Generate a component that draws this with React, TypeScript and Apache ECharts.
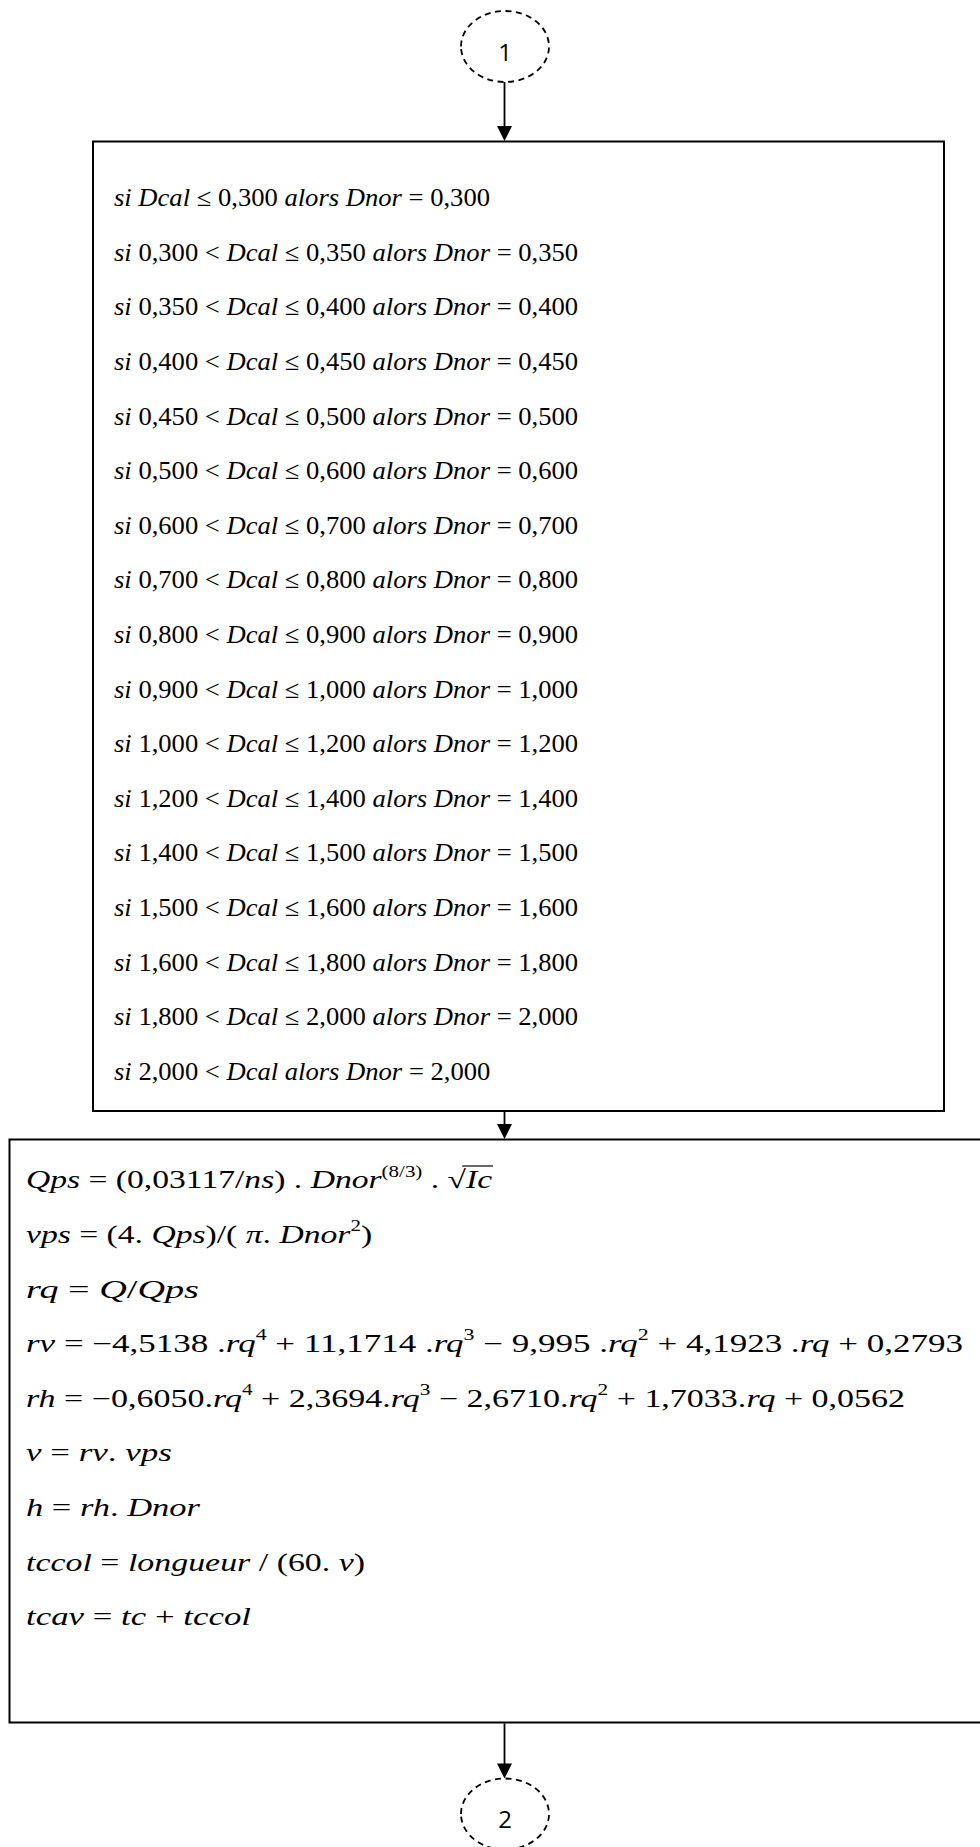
import React, { useEffect, useRef } from "react";
import * as echarts from "echarts";

type Tok = [string, string];

// ---------- content ----------
const connectorLabels = ["1", "2"];

// standard (normalised) diameters, m
const standardDiameters = [
  "0,300", "0,350", "0,400", "0,450", "0,500", "0,600", "0,700", "0,800",
  "0,900", "1,000", "1,200", "1,400", "1,500", "1,600", "1,800", "2,000",
];

// second block: formula lines (style key, text)
const qpsLine: Tok[] = [["i", "Qps"], ["n", " = (0,03117/"], ["i", "ns"], ["n", ") . "], ["i", "Dnor"], ["s", "(8/3)"], ["n", " . "], ["n", "√"], ["i", "Ic"]];
const vpsLine: Tok[] = [["i", "vps"], ["n", " = (4. "], ["i", "Qps"], ["n", ")/( "], ["i", "π"], ["n", ". "], ["i", "Dnor"], ["s", "2"], ["n", ")"]];
const rqLine: Tok[] = [["i", "rq"], ["n", " = "], ["i", "Q"], ["n", "/"], ["i", "Qps"]];
const rvLine: Tok[] = [["i", "rv"], ["n", " = −4,5138 ."], ["i", "rq"], ["s", "4"], ["n", " + 11,1714 ."], ["i", "rq"], ["s", "3"], ["n", " − 9,995 ."], ["i", "rq"], ["s", "2"], ["n", " + 4,1923 ."], ["i", "rq"], ["n", " + 0,2793"]];
const rhLine: Tok[] = [["i", "rh"], ["n", " = −0,6050."], ["i", "rq"], ["s", "4"], ["n", " + 2,3694."], ["i", "rq"], ["s", "3"], ["n", " − 2,6710."], ["i", "rq"], ["s", "2"], ["n", " + 1,7033."], ["i", "rq"], ["n", " + 0,0562"]];
const vLine: Tok[] = [["i", "v"], ["n", " = "], ["i", "rv"], ["n", ". "], ["i", "vps"]];
const hLine: Tok[] = [["i", "h"], ["n", " = "], ["i", "rh"], ["n", ". "], ["i", "Dnor"]];
const tccolLine: Tok[] = [["i", "tccol"], ["n", " = "], ["i", "longueur"], ["n", " / (60. "], ["i", "v"], ["n", ")"]];
const tcavLine: Tok[] = [["i", "tcav"], ["n", " = "], ["i", "tc"], ["n", " + "], ["i", "tccol"]];
const formulaLines: Tok[][] = [qpsLine, vpsLine, rqLine, rvLine, rhLine, vLine, hLine, tccolLine, tcavLine];

// ---------- layout ----------
const PAGE_W = 980;
const PAGE_H = 1847;
const SERIF = "'Liberation Serif', 'DejaVu Serif', serif";
const SANS = "'Open Sans', 'Noto Sans', sans-serif";
const FS = 24;
const SUP = 15;
const SCALE_Y = 1.05;
const BOX1 = { x: 93, y: 141.5, w: 851, h: 969.5 };
const BOX2 = { x: 9.5, y: 1139.5, w: 995, h: 583 };
const B1_X = 114, B1_Y0 = 198, B1_STEP = 54.6, B1_MAXW = 464;
const B2_X = 26, B2_Y0 = 1180, B2_STEP = 54.6;
const B2_END = [492, 372, 199, 963, 905, 172, 200, 365, 251];
const AX = 504.5;
const TOP_C = { cx: 505, cy: 46.5, rx: 44, ry: 35.5 };
const BOT_C = { cx: 505, cy: 1814, rx: 44, ry: 35.5 };

function box1Lines(): Tok[][] {
  const d = standardDiameters;
  const out: Tok[][] = [];
  out.push([["i", "si Dcal"], ["n", " ≤ " + d[0] + " "], ["i", "alors Dnor"], ["n", " = " + d[0]]]);
  for (let k = 1; k < d.length; k++) {
    out.push([["i", "si "], ["n", d[k - 1] + " < "], ["i", "Dcal"], ["n", " ≤ " + d[k] + " "], ["i", "alors Dnor"], ["n", " = " + d[k]]]);
  }
  const last = d[d.length - 1];
  out.push([["i", "si "], ["n", last + " < "], ["i", "Dcal alors Dnor"], ["n", " = " + last]]);
  return out;
}

function fontOf(s: string): string {
  if (s === "i") return `italic ${FS}px ${SERIF}`;
  if (s === "s") return `${SUP}px ${SERIF}`;
  return `${FS}px ${SERIF}`;
}

const rich = {
  i: { fontFamily: SERIF, fontStyle: "italic", fontSize: FS, lineHeight: 32, fill: "#000" },
  n: { fontFamily: SERIF, fontSize: FS, lineHeight: 32, fill: "#000" },
  s: { fontFamily: SERIF, fontSize: SUP, lineHeight: 15, verticalAlign: "top", fill: "#000" },
};

function tokenWidths(toks: Tok[]): number[] {
  const c = document.createElement("canvas").getContext("2d") as CanvasRenderingContext2D;
  return toks.map(([s, t]) => {
    c.font = fontOf(s);
    return c.measureText(t).width;
  });
}

function richText(toks: Tok[]): string {
  return toks.map(([s, t]) => `{${s}|${t}}`).join("");
}

function lineEl(toks: Tok[], x: number, y: number, k: number) {
  return {
    type: "text",
    x,
    y,
    scaleX: k,
    scaleY: SCALE_Y,
    style: { text: richText(toks), rich, align: "left", verticalAlign: "middle", fill: "#000", font: fontOf("n") },
  };
}

function arrow(y1: number, tip: number) {
  return [
    { type: "line", shape: { x1: AX, y1, x2: AX, y2: tip - 12 }, style: { stroke: "#000", lineWidth: 1.8 } },
    { type: "polygon", shape: { points: [[AX - 7.5, tip - 15], [AX + 7.5, tip - 15], [AX, tip]] }, style: { fill: "#000" } },
  ];
}

function connector(c: { cx: number; cy: number; rx: number; ry: number }, label: string, ty: number) {
  return [
    { type: "ellipse", shape: c, style: { fill: "#fff", stroke: "#000", lineWidth: 1.8, lineDash: [6, 4.5] } },
    { type: "text", x: c.cx, y: ty, style: { text: label, font: `24px ${SANS}`, fill: "#000", align: "center", verticalAlign: "middle" } },
  ];
}

export default function App() {
  const ref = useRef<HTMLDivElement>(null);
  useEffect(() => {
    document.body.style.margin = "0";
    const chart = echarts.init(ref.current as HTMLDivElement, undefined, { renderer: "svg" });
    const elements: any[] = [];
    elements.push({ type: "rect", shape: { x: 0, y: 0, width: PAGE_W, height: PAGE_H }, style: { fill: "#fff" } });
    elements.push({ type: "rect", shape: { x: BOX1.x, y: BOX1.y, width: BOX1.w, height: BOX1.h }, style: { fill: "none", stroke: "#000", lineWidth: 2 } });
    elements.push({ type: "rect", shape: { x: BOX2.x, y: BOX2.y, width: BOX2.w, height: BOX2.h }, style: { fill: "none", stroke: "#000", lineWidth: 2 } });
    elements.push(...arrow(TOP_C.cy + TOP_C.ry, BOX1.y - 0.5));
    elements.push(...arrow(BOX1.y + BOX1.h + 1, BOX2.y - 0.5));
    elements.push(...arrow(BOX2.y + BOX2.h + 1, BOT_C.cy - BOT_C.ry));
    elements.push(...connector(TOP_C, connectorLabels[0], 51));
    elements.push(...connector(BOT_C, connectorLabels[1], 1818));

    const l1 = box1Lines();
    const w1 = l1.map((t) => tokenWidths(t).reduce((a, b) => a + b, 0));
    const k1 = B1_MAXW / Math.max(...w1);
    l1.forEach((t, i) => elements.push(lineEl(t, B1_X, B1_Y0 + i * B1_STEP, k1)));

    formulaLines.forEach((t, i) => {
      const ws = tokenWidths(t);
      const total = ws.reduce((a, b) => a + b, 0);
      const k = (B2_END[i] - B2_X) / total;
      const y = B2_Y0 + i * B2_STEP;
      elements.push(lineEl(t, B2_X, y, k));
      const si = t.findIndex((tk) => tk[1] === "√");
      if (si >= 0) {
        const before = ws.slice(0, si).reduce((a, b) => a + b, 0);
        const xs = B2_X + k * (before + ws[si] * 0.8);
        const xe = B2_X + k * (before + ws[si] + (ws[si + 1] || 0)) + 1;
        elements.push({ type: "line", shape: { x1: xs, y1: y - 14, x2: xe, y2: y - 14 }, style: { stroke: "#000", lineWidth: 1.2 } });
      }
    });

    chart.setOption({ animation: false, graphic: { elements } });
    return () => chart.dispose();
  }, []);
  return <div ref={ref} style={{ position: "absolute", left: 0, top: 0, width: PAGE_W, height: PAGE_H }} />;
}
